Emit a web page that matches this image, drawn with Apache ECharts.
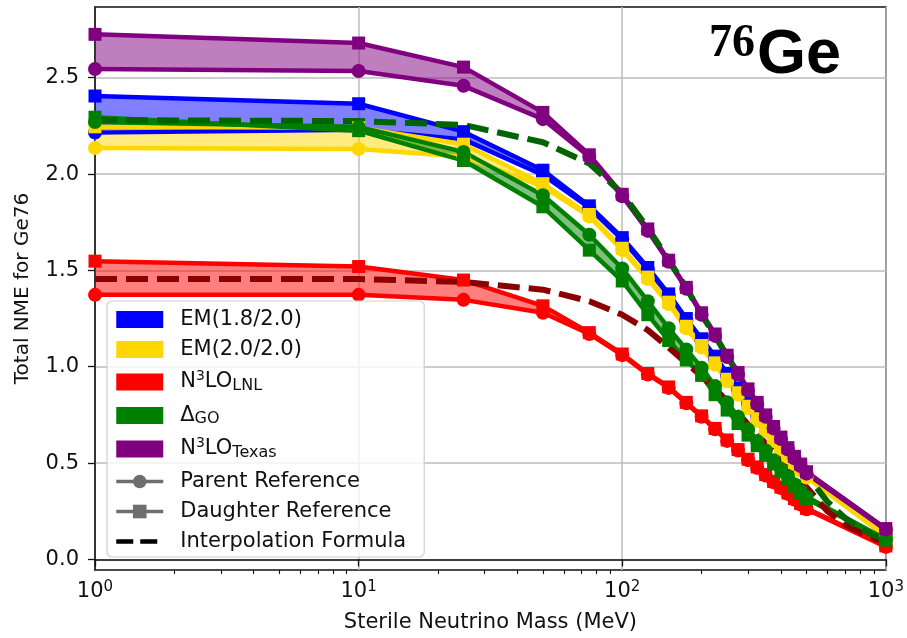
<!DOCTYPE html>
<html>
<head>
<meta charset="utf-8">
<script src="https://cdn.jsdelivr.net/npm/echarts@6/dist/echarts.min.js"></script>
<style>
html,body{margin:0;padding:0;background:#fff;}
#chart{width:907px;height:638px;}
</style>
</head>
<body>
<div id="chart"></div>
<script>
// ---------- data ----------
const masses = [1, 10, 25, 50, 75, 100, 125, 150, 175, 200, 225, 250, 275, 300, 325, 350, 375, 400, 425, 450, 475, 500, 1000];

const em18Parent   = [2.215, 2.23, 2.18, 1.995, 1.825, 1.66, 1.505, 1.37, 1.24, 1.135, 1.045, 0.955, 0.88, 0.81, 0.745, 0.69, 0.635, 0.59, 0.55, 0.51, 0.475, 0.44, 0.12];
const em18Daughter = [2.405, 2.365, 2.22, 2.02, 1.835, 1.67, 1.515, 1.378, 1.25, 1.145, 1.055, 0.965, 0.89, 0.82, 0.755, 0.70, 0.645, 0.60, 0.558, 0.52, 0.484, 0.45, 0.125];

const em20Parent   = [2.135, 2.13, 2.09, 1.935, 1.78, 1.605, 1.455, 1.325, 1.20, 1.10, 1.01, 0.925, 0.855, 0.785, 0.72, 0.665, 0.615, 0.57, 0.53, 0.495, 0.46, 0.425, 0.12];
const em20Daughter = [2.245, 2.24, 2.155, 1.95, 1.79, 1.615, 1.465, 1.335, 1.21, 1.11, 1.02, 0.935, 0.865, 0.795, 0.73, 0.675, 0.625, 0.58, 0.54, 0.503, 0.468, 0.433, 0.123];

const lnlParent    = [1.373, 1.373, 1.347, 1.28, 1.17, 1.06, 0.96, 0.89, 0.81, 0.74, 0.675, 0.615, 0.565, 0.515, 0.475, 0.435, 0.40, 0.37, 0.34, 0.31, 0.285, 0.26, 0.065];
const lnlDaughter  = [1.548, 1.52, 1.45, 1.316, 1.177, 1.066, 0.965, 0.895, 0.815, 0.745, 0.68, 0.62, 0.57, 0.52, 0.48, 0.44, 0.405, 0.375, 0.345, 0.315, 0.29, 0.265, 0.07];

const goParent     = [2.27, 2.245, 2.115, 1.89, 1.685, 1.51, 1.34, 1.20, 1.09, 0.995, 0.90, 0.815, 0.74, 0.675, 0.615, 0.565, 0.515, 0.47, 0.43, 0.39, 0.355, 0.325, 0.105];
const goDaughter   = [2.295, 2.225, 2.07, 1.83, 1.605, 1.445, 1.27, 1.136, 1.035, 0.955, 0.855, 0.775, 0.705, 0.645, 0.59, 0.54, 0.495, 0.455, 0.415, 0.38, 0.345, 0.315, 0.10];

const texasParent  = [2.545, 2.535, 2.458, 2.285, 2.09, 1.885, 1.705, 1.545, 1.405, 1.27, 1.16, 1.05, 0.96, 0.875, 0.805, 0.74, 0.68, 0.625, 0.57, 0.525, 0.485, 0.445, 0.155];
const texasDaughter= [2.725, 2.68, 2.555, 2.32, 2.10, 1.895, 1.715, 1.553, 1.412, 1.28, 1.17, 1.06, 0.97, 0.885, 0.815, 0.75, 0.69, 0.635, 0.58, 0.535, 0.495, 0.455, 0.16];

const interpMasses = [1, 10, 25, 50, 75, 100, 125, 150, 175, 200, 225, 250, 275, 300, 325, 350, 375, 400, 425, 450, 475, 500, 600, 700, 800, 900, 1000];
const interpGreen  = [2.28, 2.275, 2.255, 2.165, 2.055, 1.90, 1.72, 1.555, 1.41, 1.27, 1.16, 1.055, 0.965, 0.88, 0.805, 0.74, 0.68, 0.62, 0.565, 0.52, 0.48, 0.44, 0.30, 0.215, 0.16, 0.125, 0.10];
const interpRed    = [1.455, 1.455, 1.44, 1.40, 1.34, 1.27, 1.19, 1.10, 1.02, 0.95, 0.885, 0.82, 0.76, 0.70, 0.65, 0.60, 0.555, 0.515, 0.475, 0.44, 0.405, 0.375, 0.25, 0.18, 0.14, 0.11, 0.087];

const yTickValues  = [0, 0.5, 1.0, 1.5, 2.0, 2.5];
const xMinorTicks  = [2, 3, 4, 5, 6, 7, 8, 9, 20, 30, 40, 50, 60, 70, 80, 90, 200, 300, 400, 500, 600, 700, 800, 900];

const legendNames = ['EM(1.8/2.0)', 'EM(2.0/2.0)', 'N3LO_LNL', 'DeltaGO', 'N3LO_Texas', 'Parent Reference', 'Daughter Reference', 'Interpolation Formula'];
// ------------------------------------------------------------

const FONT = '"DejaVu Sans", "Liberation Sans", sans-serif';
const LW = 4.5;
const MS = 14;

function rgba(hex, a) {
  const n = parseInt(hex.slice(1), 16);
  return 'rgba(' + ((n >> 16) & 255) + ',' + ((n >> 8) & 255) + ',' + (n & 255) + ',' + a + ')';
}

function modelSeries(key, color, parent, daughter) {
  const P = masses.map((m, i) => [m, parent[i]]);
  const D = masses.map((m, i) => [m, daughter[i]]);
  return [
    { type: 'line', name: key + '_P', data: P, symbol: 'circle', symbolSize: MS,
      lineStyle: { color: color, width: LW }, itemStyle: { color: color }, silent: true },
    { type: 'line', name: key + '_D', data: D, symbol: 'rect', symbolSize: MS - 1,
      lineStyle: { color: color, width: LW }, itemStyle: { color: color }, silent: true },
    { type: 'custom', name: key + '_band', coordinateSystem: 'cartesian2d', silent: true, clip: true,
      data: [[masses[0], parent[0]]],
      renderItem: function (params, api) {
        const upper = masses.map((m, i) => api.coord([m, daughter[i]]));
        const lower = masses.map((m, i) => api.coord([m, parent[i]])).reverse();
        return { type: 'polygon', shape: { points: upper.concat(lower) },
                 style: { fill: rgba(color, 0.5), stroke: null } };
      } }
  ];
}

const series = [].concat(
  modelSeries('em18', '#0000ff', em18Parent, em18Daughter),
  modelSeries('em20', '#ffd700', em20Parent, em20Daughter),
  modelSeries('lnl', '#ff0000', lnlParent, lnlDaughter),
  modelSeries('go', '#008000', goParent, goDaughter),
  modelSeries('texas', '#800080', texasParent, texasDaughter),
  [
    { type: 'line', name: 'interpRed', data: interpMasses.map((m, i) => [m, interpRed[i]]), symbol: 'none',
      lineStyle: { color: '#8b0000', width: 6, type: [22, 9] }, silent: true },
    { type: 'line', name: 'interpGreen', data: interpMasses.map((m, i) => [m, interpGreen[i]]), symbol: 'none',
      lineStyle: { color: '#006400', width: 6, type: [22, 9] }, silent: true },
    // legend-only entries
    { type: 'line', name: 'EM(1.8/2.0)', data: [], itemStyle: { color: '#0000ff' }, lineStyle: { color: '#0000ff' } },
    { type: 'line', name: 'EM(2.0/2.0)', data: [], itemStyle: { color: '#ffd700' }, lineStyle: { color: '#ffd700' } },
    { type: 'line', name: 'N3LO_LNL', data: [], itemStyle: { color: '#ff0000' }, lineStyle: { color: '#ff0000' } },
    { type: 'line', name: 'DeltaGO', data: [], itemStyle: { color: '#008000' }, lineStyle: { color: '#008000' } },
    { type: 'line', name: 'N3LO_Texas', data: [], itemStyle: { color: '#800080' }, lineStyle: { color: '#800080' } },
    { type: 'line', name: 'Parent Reference', data: [], symbol: 'circle', symbolSize: MS,
      itemStyle: { color: '#6e6e6e' }, lineStyle: { color: '#6e6e6e', width: 3.5 } },
    { type: 'line', name: 'Daughter Reference', data: [], symbol: 'rect', symbolSize: MS,
      itemStyle: { color: '#6e6e6e' }, lineStyle: { color: '#6e6e6e', width: 3.5 } },
    { type: 'line', name: 'Interpolation Formula', data: [], symbol: 'none',
      itemStyle: { color: '#000', opacity: 0 }, lineStyle: { color: '#000', width: 4.5, type: [17, 7] } }
  ]
);

const legendText = {
  'EM(1.8/2.0)': '{f|EM(1.8/2.0)}',
  'EM(2.0/2.0)': '{f|EM(2.0/2.0)}',
  'N3LO_LNL': '{f|N}{sup|3}{n|LO}{sub|LNL}',
  'DeltaGO': '{f|\u0394}{sub|GO}',
  'N3LO_Texas': '{f|N}{sup|3}{n|LO}{sub|Texas}',
  'Parent Reference': '{f|Parent Reference}',
  'Daughter Reference': '{f|Daughter Reference}',
  'Interpolation Formula': '{f|Interpolation Formula}'
};

function legendItem(n, i) {
  if (i < 5) return { name: n, icon: 'rect' };
  if (i === 7) return { name: n, itemStyle: { opacity: 0 }, lineStyle: { width: 4.5, color: '#000', type: [17, 7] } };
  return { name: n, lineStyle: { width: 3.5, color: '#6e6e6e' } };
}

const chart = echarts.init(document.getElementById('chart'), null, { renderer: 'canvas' });

chart.setOption({
  animation: false,
  backgroundColor: '#fff',
  textStyle: { fontFamily: FONT, color: '#111' },
  grid: { left: 95, right: 21, top: 7, bottom: 65, show: true, borderColor: '#111', borderWidth: 1.5, containLabel: false },
  xAxis: [
    {
      type: 'log', logBase: 10, min: 1, max: 1000, gridIndex: 0, position: 'bottom',
      name: 'Sterile Neutrino Mass (MeV)', nameLocation: 'middle', nameGap: 42,
      nameTextStyle: { fontSize: 21, color: '#111', fontFamily: FONT },
      axisLine: { show: true, lineStyle: { color: '#111', width: 1.5 } },
      axisTick: { show: true, inside: false, length: 7, lineStyle: { color: '#111', width: 1.3 } },
      axisLabel: {
        show: true, margin: 9, showMinLabel: true, showMaxLabel: true,
        formatter: function (v) { return '{b|10}{s|' + Math.round(Math.log10(v)) + '}'; },
        rich: {
          b: { fontSize: 21, lineHeight: 26, color: '#111', fontFamily: FONT },
          s: { fontSize: 15, lineHeight: 16, padding: [0, 0, 10, 0], color: '#111', fontFamily: FONT }
        }
      },
      splitLine: { show: true, lineStyle: { color: '#bdbdbd', width: 1.5 } },
      minorTick: { show: false }
    },
    {
      type: 'log', logBase: 10, min: 1, max: 1000, gridIndex: 0, position: 'bottom',
      axisLine: { show: false },
      axisLabel: { show: false },
      splitLine: { show: false },
      axisTick: { show: true, inside: false, length: 4, customValues: xMinorTicks, lineStyle: { color: '#111', width: 1.1 } }
    }
  ],
  yAxis: {
    type: 'value', min: -0.055, max: 2.867,
    name: 'Total NME for Ge76', nameLocation: 'middle', nameGap: 62,
    nameTextStyle: { fontSize: 20, color: '#111', fontFamily: FONT },
    axisLine: { show: true, lineStyle: { color: '#111', width: 1.5 } },
    axisTick: { show: true, inside: false, length: 7, customValues: yTickValues, lineStyle: { color: '#111', width: 1.3 } },
    axisLabel: { show: true, margin: 16, fontSize: 21, color: '#111', customValues: yTickValues,
      formatter: function (v) { return Number(v).toFixed(1); } },
    splitLine: { show: true, lineStyle: { color: '#bdbdbd', width: 1.5 } }
  },
  legend: {
    orient: 'vertical', left: 107, top: 301,
    padding: [8, 18, 5, 7],
    itemWidth: 47, itemHeight: 17, itemGap: 9,
    backgroundColor: 'rgba(255,255,255,0.8)', borderColor: '#cfcfcf', borderWidth: 1.2, borderRadius: 5,
    selectedMode: false,
    data: legendNames.map(legendItem),
    formatter: function (name) { return legendText[name]; },
    textStyle: {
      color: '#111', fontFamily: FONT,
      rich: {
        f: { fontSize: 21, lineHeight: 30, padding: [0, 0, 0, 12], color: '#111', fontFamily: FONT },
        n: { fontSize: 21, lineHeight: 30, color: '#111', fontFamily: FONT },
        sup: { fontSize: 14, lineHeight: 16, padding: [0, 0, 12, 0], color: '#111', fontFamily: FONT },
        sub: { fontSize: 16, lineHeight: 18, padding: [7, 0, 0, 0], color: '#111', fontFamily: FONT }
      }
    }
  },
  graphic: [
    { type: 'text', x: 709, y: 44, z: 100,
      style: { text: '76', font: 'bold 46px "Liberation Serif", "DejaVu Serif", serif', fill: '#000', align: 'left', verticalAlign: 'middle' } },
    { type: 'text', x: 757, y: 56, z: 100,
      style: { text: 'Ge', font: 'bold 63px "Liberation Sans", Arial, sans-serif', fill: '#000', align: 'left', verticalAlign: 'middle' } }
  ],
  series: series
});
</script>
</body>
</html>
